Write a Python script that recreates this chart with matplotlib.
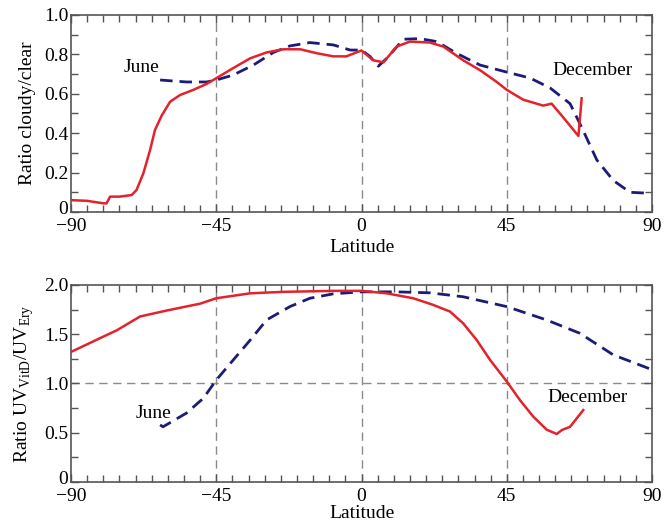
import numpy as np
import matplotlib.pyplot as plt
from matplotlib.ticker import MultipleLocator
from matplotlib.transforms import ScaledTranslation

plt.rcParams['font.family'] = ['Liberation Serif', 'DejaVu Serif']
plt.rcParams['mathtext.fontset'] = 'custom'
plt.rcParams['mathtext.rm'] = 'Liberation Serif'

# cloudy/clear ratio, December (solid) and June (dashed)
dec_cc_lat = [-90, -85.1, -80, -79, -77.9, -75, -71.2, -69.7, -67.6, -65.5, -64, -61.9,
              -59.3, -56.2, -52.1, -48, -44.9, -39.8, -34.5, -29.4, -24.2, -19, -13.9, -8.7,
              -4.7, 0, 3.6, 6.8, 10.9, 15, 21.2, 25.3, 31.5, 36.7, 41.9, 45, 50.1, 56.3,
              58.9, 62.5, 67.2, 68.2]
dec_cc_val = [0.06, 0.057, 0.044, 0.044, 0.078, 0.078, 0.086, 0.112, 0.196, 0.315, 0.416, 0.49,
              0.56, 0.594, 0.62, 0.65, 0.68, 0.73, 0.78, 0.81, 0.826, 0.826, 0.806, 0.79,
              0.79, 0.82, 0.77, 0.76, 0.84, 0.865, 0.86, 0.84, 0.77, 0.72, 0.66, 0.62, 0.57, 0.54,
              0.55, 0.48, 0.386, 0.577]

jun_cc_lat = [-62.4, -54.2, -48, -45, -39.8, -33.5, -27.3, -22.2, -16, -8.7, -3.5, 0, 2.6,
              5.2, 7.8, 13, 18.1, 23.3, 29.5, 36.7, 45, 52.2, 58.4, 64.6, 68.2, 72.9, 78,
              83.2, 89.4]
jun_cc_val = [0.67, 0.66, 0.66, 0.67, 0.695, 0.746, 0.81, 0.843, 0.86, 0.848, 0.822, 0.822,
              0.79, 0.74, 0.78, 0.877, 0.88, 0.865, 0.805, 0.746, 0.71, 0.68, 0.63, 0.55, 0.43,
              0.264, 0.16, 0.10, 0.095]

# UV VitD / UV Ery ratio
dec_uv_lat = [-90, -81, -75.8, -68.6, -60.4, -50, -45, -34.5, -24.2, -8.7, 0, 7.8, 16,
              22, 27.4, 31.5, 35.7, 39.8, 45, 49.1, 53.3, 57.4, 60.5, 62.1, 64.6, 68.7]
dec_uv_val = [1.32, 1.46, 1.54, 1.68, 1.74, 1.81, 1.865, 1.915, 1.93, 1.94, 1.94, 1.915, 1.865,
              1.80, 1.73, 1.61, 1.44, 1.24, 1.02, 0.83, 0.66, 0.53, 0.487, 0.528, 0.56, 0.73]

jun_uv_lat = [-62.4, -61.5, -54.2, -49, -45, -39.7, -34.5, -29.4, -22.2, -16, -8.7, 0, 10.9,
              21.2, 31.5, 45, 57.3, 67.6, 78, 90]
jun_uv_val = [0.58, 0.56, 0.70, 0.85, 1.035, 1.24, 1.44, 1.645, 1.78, 1.865, 1.91, 1.93, 1.93,
              1.92, 1.88, 1.78, 1.645, 1.51, 1.29, 1.14]

red = '#e3222b'
navy = '#1c1c78'
grey = '#8a8a8a'

fig = plt.figure(figsize=(6.65, 5.24), dpi=100)
ax1 = fig.add_axes([0.1068, 0.5954, 0.8737, 0.3760])
ax2 = fig.add_axes([0.1068, 0.0802, 0.8737, 0.3760])


def style(ax, ymax, ymajor, yminor, ylabels, xpad):
    ax.set_xlim(-90, 90)
    ax.set_ylim(0, ymax)
    ax.set_xticks([-90, -45, 0, 45, 90])
    ax.set_xticklabels(['\u221290', '\u221245', '0', '45', '90'])
    ax.xaxis.set_minor_locator(MultipleLocator(5))
    ax.set_yticks(np.arange(0, ymax + 1e-9, ymajor))
    ax.set_yticklabels(ylabels)
    ax.yaxis.set_minor_locator(MultipleLocator(yminor))
    ax.tick_params(which='both', direction='in', top=True, right=True, labelsize=14,
                   color='#555555')
    ax.tick_params(axis='x', pad=4)
    ax.tick_params(axis='y', pad=2)
    ax.tick_params(which='major', length=6, width=1)
    ax.tick_params(which='minor', length=5, width=1)
    for s in ax.spines.values():
        s.set_color('#555555')
        s.set_linewidth(1.2)
    for x in (-45, 0, 45):
        ax.axvline(x, color=grey, lw=1, dashes=(6, 4), zorder=1)
    ax.set_xlabel('Latitude', fontsize=14, labelpad=xpad)
    # lift the "0" label a little off the corner
    lab0 = ax.get_yticklabels()[0]
    lab0.set_transform(lab0.get_transform() + ScaledTranslation(0, 3 / 72, fig.dpi_scale_trans))


style(ax1, 1.0, 0.2, 0.1, ['0', '0.2', '0.4', '0.6', '0.8', '1.0'], 3)
ax1.plot(dec_cc_lat, dec_cc_val, color=red, lw=1.8, zorder=3, solid_joinstyle='round')
ax1.plot(jun_cc_lat, jun_cc_val, color=navy, lw=2, dashes=(4.5, 2.5), zorder=2)
ax1.set_ylabel('Ratio cloudy/clear', fontsize=14, labelpad=6)
ax1.text(-62.5, 0.735, 'June', fontsize=14, ha='right', va='center')
ax1.text(59, 0.72, 'December', fontsize=14, ha='left', va='center')

style(ax2, 2.0, 0.5, 0.25, ['0', '0.5', '1.0', '1.5', '2.0'], 0.5)
ax2.axhline(1.0, color=grey, lw=1, dashes=(6, 4), zorder=1)
ax2.plot(dec_uv_lat, dec_uv_val, color=red, lw=1.8, zorder=3, solid_joinstyle='round')
ax2.plot(jun_uv_lat, jun_uv_val, color=navy, lw=2, dashes=(4.5, 2.5), zorder=2)
ax2.set_ylabel('Ratio UV$_{\\mathrm{VitD}}$/UV$_{\\mathrm{Ery}}$', fontsize=14, labelpad=6)
ax2.text(-59, 0.70, 'June', fontsize=14, ha='right', va='center')
ax2.text(57.5, 0.86, 'December', fontsize=14, ha='left', va='center')

fig.savefig('out.png', dpi=100)
